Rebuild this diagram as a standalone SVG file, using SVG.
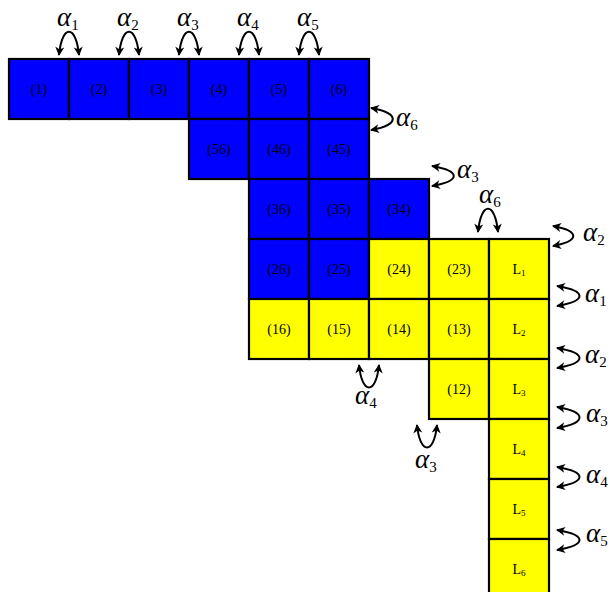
<svg xmlns="http://www.w3.org/2000/svg" width="610" height="592" viewBox="0 0 610 592">
<style>
.b{fill:#0000ff;stroke:#000;stroke-width:2.2}
.y{fill:#ffff00;stroke:#000;stroke-width:2.2}
.t{font-family:"Liberation Serif",serif;font-size:14px;text-anchor:middle;fill:#000}
.s{font-size:9px}
.a{fill:none;stroke:#000;stroke-width:2;marker-start:url(#ah);marker-end:url(#ah)}
.g{font-family:"Liberation Serif",serif;font-style:italic;font-size:27px;fill:#000}
.sub{font-style:normal;font-size:15px}
</style>
<defs>
<marker id="ah" viewBox="-9 -5 10 10" refX="0" refY="0" markerWidth="10" markerHeight="10" markerUnits="userSpaceOnUse" orient="auto-start-reverse">
<path d="M1,0 L-8,-4.5 L-5.5,0 L-8,4.5 Z" fill="#000"/>
</marker>
</defs>
<rect width="610" height="592" fill="#fff"/>
<g id="cells">
<g id="c1"><rect class="b" x="9" y="59" width="60" height="60"/><text class="t" x="39" y="94">(1)</text></g>
<g id="c2"><rect class="b" x="69" y="59" width="60" height="60"/><text class="t" x="99" y="94">(2)</text></g>
<g id="c3"><rect class="b" x="129" y="59" width="60" height="60"/><text class="t" x="159" y="94">(3)</text></g>
<g id="c4"><rect class="b" x="189" y="59" width="60" height="60"/><text class="t" x="219" y="94">(4)</text></g>
<g id="c5"><rect class="b" x="249" y="59" width="60" height="60"/><text class="t" x="279" y="94">(5)</text></g>
<g id="c6"><rect class="b" x="309" y="59" width="60" height="60"/><text class="t" x="339" y="94">(6)</text></g>
<g id="c56"><rect class="b" x="189" y="119" width="60" height="60"/><text class="t" x="219" y="154">(56)</text></g>
<g id="c46"><rect class="b" x="249" y="119" width="60" height="60"/><text class="t" x="279" y="154">(46)</text></g>
<g id="c45"><rect class="b" x="309" y="119" width="60" height="60"/><text class="t" x="339" y="154">(45)</text></g>
<g id="c36"><rect class="b" x="249" y="179" width="60" height="60"/><text class="t" x="279" y="214">(36)</text></g>
<g id="c35"><rect class="b" x="309" y="179" width="60" height="60"/><text class="t" x="339" y="214">(35)</text></g>
<g id="c34"><rect class="b" x="369" y="179" width="60" height="60"/><text class="t" x="399" y="214">(34)</text></g>
<g id="c26"><rect class="b" x="249" y="239" width="60" height="60"/><text class="t" x="279" y="274">(26)</text></g>
<g id="c25"><rect class="b" x="309" y="239" width="60" height="60"/><text class="t" x="339" y="274">(25)</text></g>
<g id="c24"><rect class="y" x="369" y="239" width="60" height="60"/><text class="t" x="399" y="274">(24)</text></g>
<g id="c23"><rect class="y" x="429" y="239" width="60" height="60"/><text class="t" x="459" y="274">(23)</text></g>
<g id="cL1"><rect class="y" x="489" y="239" width="60" height="60"/><text class="t" x="519" y="274">L<tspan class="s" dy="2">1</tspan></text></g>
<g id="c16"><rect class="y" x="249" y="299" width="60" height="60"/><text class="t" x="279" y="334">(16)</text></g>
<g id="c15"><rect class="y" x="309" y="299" width="60" height="60"/><text class="t" x="339" y="334">(15)</text></g>
<g id="c14"><rect class="y" x="369" y="299" width="60" height="60"/><text class="t" x="399" y="334">(14)</text></g>
<g id="c13"><rect class="y" x="429" y="299" width="60" height="60"/><text class="t" x="459" y="334">(13)</text></g>
<g id="cL2"><rect class="y" x="489" y="299" width="60" height="60"/><text class="t" x="519" y="334">L<tspan class="s" dy="2">2</tspan></text></g>
<g id="c12"><rect class="y" x="429" y="359" width="60" height="60"/><text class="t" x="459" y="394">(12)</text></g>
<g id="cL3"><rect class="y" x="489" y="359" width="60" height="60"/><text class="t" x="519" y="394">L<tspan class="s" dy="2">3</tspan></text></g>
<g id="cL4"><rect class="y" x="489" y="419" width="60" height="60"/><text class="t" x="519" y="454">L<tspan class="s" dy="2">4</tspan></text></g>
<g id="cL5"><rect class="y" x="489" y="479" width="60" height="60"/><text class="t" x="519" y="514">L<tspan class="s" dy="2">5</tspan></text></g>
<g id="cL6"><rect class="y" x="489" y="539" width="60" height="60"/><text class="t" x="519" y="574">L<tspan class="s" dy="2">6</tspan></text></g>
</g>
<g id="connectors">
<path class="a" d="M59,55 C62,24 76,24 79,55"/>
<path class="a" d="M119,55 C122,24 136,24 139,55"/>
<path class="a" d="M179,55 C182,24 196,24 199,55"/>
<path class="a" d="M239,55 C242,24 256,24 259,55"/>
<path class="a" d="M299,55 C302,24 316,24 319,55"/>
<path class="a" d="M478,232 C481,201 495,201 498,232"/>
<path class="a" d="M359,365 C362,395 376,395 379,365"/>
<path class="a" d="M417,425 C420,455 434,455 437,425"/>
<path class="a" d="M371,108 C400,113 400,125 371,130"/>
<path class="a" d="M432,166 C461,171 461,181 432,186"/>
<path class="a" d="M553,226 C580,231 580,241 553,246"/>
<path class="a" d="M557,286 C587,291 587,301 557,306"/>
<path class="a" d="M557,348 C587,353 587,363 557,368"/>
<path class="a" d="M557,407 C587,412 587,423 557,428"/>
<path class="a" d="M557,467 C587,472 587,482 557,487"/>
<path class="a" d="M557,530 C587,535 587,545 557,550"/>
</g>
<g id="labels">
<text class="g" x="57" y="26">α<tspan class="sub" dy="4">1</tspan></text>
<text class="g" x="117" y="26">α<tspan class="sub" dy="4">2</tspan></text>
<text class="g" x="177" y="26">α<tspan class="sub" dy="4">3</tspan></text>
<text class="g" x="237" y="26">α<tspan class="sub" dy="4">4</tspan></text>
<text class="g" x="297" y="26">α<tspan class="sub" dy="4">5</tspan></text>
<text class="g" x="396" y="126">α<tspan class="sub" dy="4">6</tspan></text>
<text class="g" x="457" y="178">α<tspan class="sub" dy="4">3</tspan></text>
<text class="g" x="479" y="203">α<tspan class="sub" dy="4">6</tspan></text>
<text class="g" x="355" y="404">α<tspan class="sub" dy="4">4</tspan></text>
<text class="g" x="415" y="468">α<tspan class="sub" dy="4">3</tspan></text>
<text class="g" x="583" y="241">α<tspan class="sub" dy="4">2</tspan></text>
<text class="g" x="585" y="302">α<tspan class="sub" dy="4">1</tspan></text>
<text class="g" x="585" y="363">α<tspan class="sub" dy="4">2</tspan></text>
<text class="g" x="586" y="422">α<tspan class="sub" dy="4">3</tspan></text>
<text class="g" x="586" y="483">α<tspan class="sub" dy="4">4</tspan></text>
<text class="g" x="586" y="542">α<tspan class="sub" dy="4">5</tspan></text>
</g>
</svg>
